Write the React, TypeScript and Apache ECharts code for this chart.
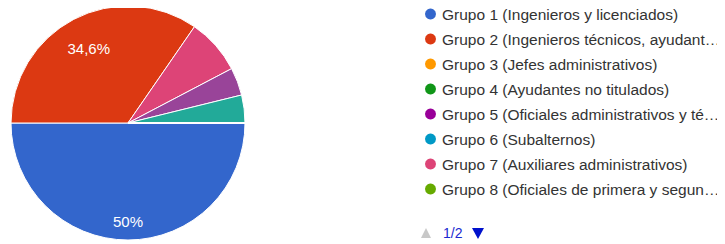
import React, { useEffect, useRef } from "react";
import * as echarts from "echarts";

const categories = [
  "Grupo 1 (Ingenieros y licenciados)",
  "Grupo 2 (Ingenieros técnicos, ayudantes titulados)",
  "Grupo 3 (Jefes administrativos)",
  "Grupo 4 (Ayudantes no titulados)",
  "Grupo 5 (Oficiales administrativos y técnicos)",
  "Grupo 6 (Subalternos)",
  "Grupo 7 (Auxiliares administrativos)",
  "Grupo 8 (Oficiales de primera y segunda)",
  "Grupo 9 (Oficiales de tercera y especialistas)",
  "Grupo 10 (Peones)",
  "Grupo 11 (Trabajadores menores de dieciocho años)",
  "Otros",
];
const values = [13, 9, 0, 0, 0, 0, 2, 0, 0, 0, 1, 1];
const palette = [
  "#3366cc", "#dc3912", "#ff9900", "#109618", "#990099", "#0099c6",
  "#dd4477", "#66aa00", "#b82e2e", "#316395", "#994499", "#22aa99",
];
const legendPage = "1/2";
const itemsPerPage = 8;

export default function App() {
  const ref = useRef<HTMLDivElement>(null);
  useEffect(() => {
    if (!ref.current) return;
    const chart = echarts.init(ref.current, undefined, { renderer: "svg" });
    const total = values.reduce((a, b) => a + b, 0);
    const items = categories
      .map((name, i) => ({ name, value: values[i], itemStyle: { color: palette[i] } }))
      .sort((a, b) => b.value - a.value);
    const fmt = (v: number) => {
      const p = Math.round((v / total) * 1000) / 10;
      return String(p).replace(".", ",") + "%";
    };
    const font = "Liberation Sans, Arial, sans-serif";
    const labelRing = (inner: number, rank: number) => ({
      type: "pie",
      center: [128, 123],
      radius: [inner, 117],
      startAngle: 0,
      clockwise: true,
      silent: true,
      avoidLabelOverlap: false,
      legendHoverLink: false,
      itemStyle: { color: "rgba(0,0,0,0)", borderWidth: 0 },
      label: {
        show: true,
        position: "inside",
        color: "#fff",
        fontFamily: font,
        fontSize: 15,
        formatter: (p: any) => (p.dataIndex === rank ? fmt(p.value) : ""),
      },
      labelLine: { show: false },
      emphasis: { disabled: true },
      data: items.map((d) => ({ name: d.name + " ", value: d.value })),
    });
    chart.setOption({
      animation: false,
      color: palette,
      legend: {
        orient: "vertical",
        left: 418,
        top: 1,
        data: categories.slice(0, itemsPerPage),
        icon: "circle",
        itemWidth: 13,
        itemHeight: 13,
        itemGap: 9,
        textStyle: {
          fontFamily: font,
          fontSize: 15.5,
          lineHeight: 16,
          color: "#333",
          width: 283,
          overflow: "truncate",
          ellipsis: "…",
        },
      },
      graphic: [
        {
          type: "polygon",
          shape: { points: [[421, 238], [431, 238], [426, 228]] },
          style: { fill: "#c8c8c8" },
        },
        {
          type: "text",
          x: 443,
          y: 233,
          style: {
            text: legendPage,
            fill: "#1a2ad0",
            font: "14px " + font,
            verticalAlign: "middle",
          },
        },
        {
          type: "polygon",
          shape: { points: [[472, 228], [484, 228], [478, 239]] },
          style: { fill: "#0011cc" },
        },
      ],
      series: [
        {
          type: "pie",
          center: [128, 123],
          radius: [0, 117],
          startAngle: 0,
          clockwise: true,
          avoidLabelOverlap: false,
          itemStyle: { borderColor: "#fff", borderWidth: 1 },
          label: { show: false },
          labelLine: { show: false },
          emphasis: { disabled: true },
          data: items,
        },
        labelRing(74, 0),
        labelRing(46, 1),
      ],
    });
    return () => chart.dispose();
  }, []);
  return (
    <div
      ref={ref}
      style={{ width: 725, height: 244, marginLeft: -8, marginTop: -8 }}
    />
  );
}
